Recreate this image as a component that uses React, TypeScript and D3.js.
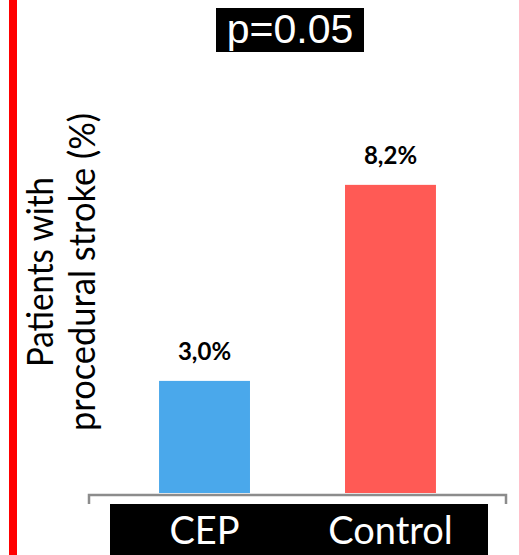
import React from "react";
import * as d3 from "d3";

// Procedural stroke rates by group
const categories = ["CEP", "Control"];
const values = [3.0, 8.2];
const valueLabels = ["3,0%", "8,2%"];
const barColors = ["#4aa8eb", "#ff5a55"];
const title = "p=0.05";
const yLabelLines = ["Patients with", "procedural stroke (%)"];

const W = 519;
const H = 555;
const baseY = 494;

export default function App() {
  const x = d3
    .scaleBand<string>()
    .domain(categories)
    .range([88, 507])
    .paddingInner(0.511)
    .paddingOuter(0.382);
  const y = d3.scaleLinear().domain([0, 10]).range([baseY, 117]);

  const humanist = "Lato, 'Open Sans', sans-serif";

  return (
    <svg
      width={W}
      height={H}
      viewBox={`0 0 ${W} ${H}`}
      style={{ position: "absolute", left: 0, top: 0, background: "#fff" }}
    >
      <rect x={0} y={0} width={W} height={H} fill="#fff" />
      {/* accent rule on the left edge */}
      <rect x={9} y={0} width={8} height={H} fill="#ff0000" />

      {/* p-value heading */}
      <rect x={216} y={8} width={148} height={44} fill="#000" />
      <text
        x={290}
        y={43}
        textAnchor="middle"
        fill="#fff"
        fontFamily="'Liberation Sans', Arial, sans-serif"
        fontSize={41}
      >
        {title}
      </text>

      {/* y-axis title */}
      <g transform="translate(0,272) rotate(-90)" fontFamily={humanist} fontSize={36} fill="#000">
        <text x={0} y={53} textAnchor="middle" textLength={190} lengthAdjust="spacingAndGlyphs">
          {yLabelLines[0]}
        </text>
        <text x={0} y={95} textAnchor="middle" textLength={318} lengthAdjust="spacingAndGlyphs">
          {yLabelLines[1]}
        </text>
      </g>

      {/* bars */}
      {categories.map((c, i) => (
        <rect
          key={c}
          x={x(c)}
          y={y(values[i])}
          width={x.bandwidth()}
          height={baseY - 1 - y(values[i])}
          fill={barColors[i]}
        />
      ))}

      {/* value labels */}
      {categories.map((c, i) => (
        <text
          key={c + "-v"}
          x={(x(c) ?? 0) + x.bandwidth() / 2}
          y={y(values[i]) - 21}
          textAnchor="middle"
          fontFamily={humanist}
          fontWeight="bold"
          fontSize={24}
          fill="#000"
        >
          {valueLabels[i]}
        </text>
      ))}

      {/* category axis bracket */}
      <path
        d={`M89,504 V495 H506 V504`}
        fill="none"
        stroke="#8c8c8c"
        strokeWidth={2.5}
      />

      {/* category label band */}
      <rect x={110} y={504} width={378} height={H - 504} fill="#000" />
      {categories.map((c) => (
        <text
          key={c + "-l"}
          x={(x(c) ?? 0) + x.bandwidth() / 2}
          y={544}
          textAnchor="middle"
          fontFamily={humanist}
          fontSize={38}
          fill="#fff"
        >
          {c}
        </text>
      ))}
    </svg>
  );
}
